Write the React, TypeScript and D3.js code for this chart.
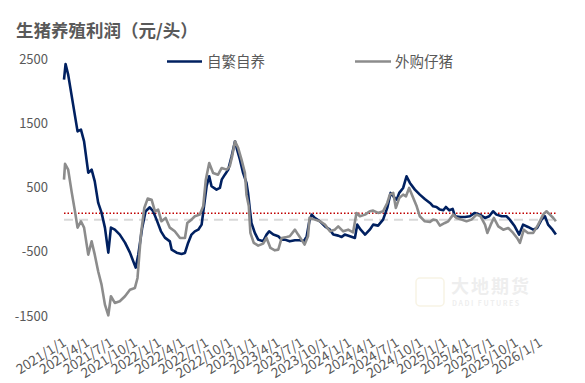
import React from "react";
import * as d3 from "d3";

const title = "生猪养殖利润（元/头）";
const seriesNames = ["自繁自养", "外购仔猪"];
const yTicks = [2500, 1500, 500, -500, -1500];
const breakEven = 100;

const selfDates = [
  "2021-01-01","2021-01-07","2021-01-17","2021-02-05","2021-02-22","2021-03-07","2021-03-19","2021-04-04","2021-04-17","2021-04-29",
  "2021-05-12","2021-05-25","2021-06-07","2021-06-20","2021-06-30","2021-07-15","2021-08-03","2021-08-23","2021-09-11","2021-10-03",
  "2021-10-13","2021-10-28","2021-11-10","2021-11-26","2021-12-09","2021-12-22","2022-01-08","2022-01-23","2022-02-11","2022-02-18",
  "2022-03-09","2022-03-28","2022-04-10","2022-04-22","2022-05-05","2022-05-18","2022-05-31","2022-06-13","2022-06-22","2022-07-02",
  "2022-07-12","2022-07-21","2022-08-09","2022-08-22","2022-08-29","2022-09-10","2022-09-23","2022-10-06","2022-10-19","2022-10-27",
  "2022-11-07","2022-11-19","2022-12-02","2022-12-08","2022-12-15","2022-12-21","2023-01-03","2023-01-16","2023-02-04","2023-02-17",
  "2023-02-27","2023-03-15","2023-04-03","2023-04-16","2023-04-28","2023-05-17","2023-06-06","2023-06-25","2023-07-10","2023-07-21",
  "2023-07-31","2023-08-09","2023-08-21","2023-09-10","2023-09-29","2023-10-18","2023-10-31","2023-11-19","2023-12-02","2023-12-14",
  "2024-01-03","2024-01-22","2024-01-31","2024-02-13","2024-03-01","2024-03-19","2024-04-01","2024-04-20","2024-05-09","2024-05-25",
  "2024-06-07","2024-06-17","2024-06-30","2024-07-10","2024-07-25","2024-08-07","2024-08-20","2024-09-08","2024-09-27","2024-10-16",
  "2024-11-05","2024-11-17","2024-11-30","2024-12-13","2024-12-26","2025-01-05","2025-01-18","2025-01-31","2025-02-09","2025-02-28",
  "2025-03-19","2025-04-07","2025-04-26","2025-05-15","2025-06-04","2025-06-20","2025-07-05","2025-07-18","2025-08-07","2025-08-26",
  "2025-09-07","2025-09-26","2025-10-13","2025-10-28","2025-11-16","2025-12-06","2025-12-21","2026-01-07","2026-01-20","2026-02-01",
  "2026-02-18","2026-03-03"
];
const selfValues = [
  2180, 2420, 2257, 1790, 1374, 1400, 1219, 731, 778, 596,
  265, 109, -125, -514, -125, -156, -233, -358, -514, -747,
  -545, -125, 130, 192, 130, 0, -182, -280, -338, -467,
  -514, -534, -519, -363, -233, -182, -156, -78, 207, 519,
  674, 519, 467, 493, 622, 700, 778, 985, 1219, 1089,
  934, 727, 571, 416, 156, -52, -207, -311, -338, -233,
  -182, -233, -259, -311, -311, -338, -322, -322, -338, -259,
  -30, 78, 26, -26, -104, -156, -233, -249, -270, -233,
  -259, -285, -78, -156, -233, -156, -78, -93, 0, 182,
  416, 363, 311, 416, 493, 674, 571, 467, 389, 322,
  260, 207, 197, 156, 145, 197, 145, 166, 52, 41,
  41, 52, 104, 78, 26, 52, 130, 78, 52, 52,
  0, -104, -233, -78, -114, -156, -130, 0, 52, -78,
  -156, -233
];

const boughtDates = [
  "2021-01-01","2021-01-05","2021-01-17","2021-01-30","2021-02-12","2021-02-22","2021-03-07","2021-03-19","2021-04-04","2021-04-17",
  "2021-04-29","2021-05-12","2021-05-25","2021-06-07","2021-06-20","2021-06-30","2021-07-15","2021-08-03","2021-08-23","2021-09-11",
  "2021-09-30","2021-10-10","2021-10-23","2021-11-05","2021-11-18","2021-12-03","2021-12-16","2021-12-28","2022-01-10","2022-01-26",
  "2022-02-11","2022-03-02","2022-03-22","2022-04-10","2022-04-19","2022-05-05","2022-05-18","2022-06-06","2022-06-19","2022-06-29",
  "2022-07-12","2022-07-27","2022-08-15","2022-08-29","2022-09-17","2022-09-29","2022-10-08","2022-10-19","2022-10-31","2022-11-13",
  "2022-11-26","2022-12-02","2022-12-11","2022-12-17","2022-12-30","2023-01-16","2023-02-04","2023-02-17","2023-03-04","2023-03-21",
  "2023-04-03","2023-04-16","2023-05-05","2023-05-17","2023-06-06","2023-06-18","2023-07-01","2023-07-13","2023-07-26","2023-08-01",
  "2023-08-21","2023-09-10","2023-09-29","2023-10-18","2023-11-06","2023-11-19","2023-12-08","2023-12-27","2024-01-15","2024-01-28",
  "2024-02-10","2024-03-01","2024-03-19","2024-04-01","2024-04-20","2024-05-09","2024-05-25","2024-06-04","2024-06-17","2024-06-27",
  "2024-07-10","2024-07-25","2024-08-05","2024-08-17","2024-08-30","2024-09-15","2024-09-27","2024-10-16","2024-11-05","2024-11-17",
  "2024-11-30","2024-12-13","2025-01-01","2025-01-14","2025-02-02","2025-02-15","2025-03-06","2025-03-25","2025-04-13","2025-05-03",
  "2025-05-18","2025-06-04","2025-06-13","2025-06-26","2025-07-08","2025-07-25","2025-08-13","2025-09-01","2025-09-20","2025-10-05",
  "2025-10-16","2025-10-31","2025-11-16","2025-12-06","2025-12-25","2026-01-13","2026-01-26","2026-02-08","2026-02-21","2026-03-03"
];
const boughtValues = [
  622, 867, 778, 440, 130, -125, -26, -125, -545, -338,
  -545, -804, -1012, -1323, -1489, -1193, -1297, -1271, -1193, -1090,
  -1063, -908, -233, 182, 327, 311, 130, 156, -26, 26,
  -125, -182, -285, -285, -52, 0, 52, 78, 207, 622,
  882, 727, 700, 804, 778, 830, 985, 1219, 1116, 934,
  727, 389, 207, -207, -363, -405, -374, -285, -441, -478,
  -467, -285, -270, -259, -156, -233, -311, -389, -259, 30,
  0, -26, -78, -182, -156, -104, -182, -156, -197, 104,
  52, 78, 130, 140, 104, 130, 259, 389, 416, 182,
  337, 389, 363, 493, 363, 207, 52, -26, -35, 0,
  -10, -93, -52, -26, 78, 26, 0, -26, 0, 78,
  52, -78, -207, -78, 26, -104, -156, -130, -207, -285,
  -363, -156, -207, -207, -78, 78, 130, 78, 26, -26
];

const W = 585;
const H = 383;
const NAVY = "#002060";
const GRAY = "#8c8c8c";
const TEXT = "#595959";
const FONT = "'Noto Sans CJK SC', 'Noto Sans', sans-serif";

export default function App() {
  const parse = d3.timeParse("%Y-%m-%d");
  const x = d3
    .scaleTime()
    .domain([parse("2021-01-01")!, parse("2026-01-01")!])
    .range([64, 540]);
  const y = d3.scaleLinear().domain([-1500, 2500]).range([316, 59]);

  const self = selfDates.map((d, i) => ({ d: parse(d)!, v: selfValues[i] }));
  const bought = boughtDates.map((d, i) => ({ d: parse(d)!, v: boughtValues[i] }));
  const line = d3
    .line<{ d: Date; v: number }>()
    .x((p) => x(p.d))
    .y((p) => y(p.v))
    .curve(d3.curveLinear);

  const xStart = x(self[0].d);
  const xEnd = x(self[self.length - 1].d);
  const xTicks = d3.timeMonth.every(3)!.range(parse("2021-01-01")!, parse("2026-01-02")!);
  const fmt = d3.timeFormat("%Y/%-m/%-d");

  return (
    <svg
      width={W}
      height={H}
      style={{ position: "absolute", left: 0, top: 0, background: "#fff" }}
      fontFamily={FONT}
    >
      <rect width={W} height={H} fill="#fff" />
      <text x={16} y={37} fontSize={17.5} fontWeight="bold" fill={TEXT}>
        {title}
      </text>

      {/* watermark */}
      <g opacity={0.13}>
        <rect x={416} y={278} width={28} height={28} rx={4} fill="none" stroke="#c9a93a" strokeWidth={1.5} />
        <text x={451} y={293} fontSize={18} fontWeight="bold" fill="#7f7f7f" letterSpacing={2}>
          大地期货
        </text>
        <text x={452} y={306} fontSize={7} fontWeight="bold" fill="#7f7f7f" letterSpacing={1.5}>
          DADI FUTURES
        </text>
      </g>

      {/* y labels */}
      {yTicks.map((t) => (
        <text key={t} x={48} y={y(t)} dy="0.35em" textAnchor="end" fontSize={13} fill={TEXT}>
          {t}
        </text>
      ))}

      {/* x labels */}
      {xTicks.map((t) => (
        <text
          key={+t}
          transform={`translate(${x(t) + 3},${345}) rotate(-32)`}
          textAnchor="end"
          fontSize={13.5}
          fill={TEXT}
        >
          {fmt(t)}
        </text>
      ))}

      {/* reference lines */}
      <line x1={xStart} x2={xEnd} y1={y(0)} y2={y(0)} stroke="#d9d9d9" strokeWidth={2} strokeDasharray="9,6" />
      <line
        x1={xStart}
        x2={xEnd}
        y1={y(breakEven)}
        y2={y(breakEven)}
        stroke="#c00000"
        strokeWidth={1.5}
        strokeDasharray="1.5,2"
      />

      <path d={line(self) ?? ""} fill="none" stroke={NAVY} strokeWidth={2.6} strokeLinejoin="round" />
      <path d={line(bought) ?? ""} fill="none" stroke={GRAY} strokeWidth={2.6} strokeLinejoin="round" />

      {/* legend */}
      <line x1={167} x2={202} y1={61.5} y2={61.5} stroke={NAVY} strokeWidth={2.5} />
      <text x={207} y={61.5} dy="0.36em" fontSize={14.5} fill={TEXT}>
        {seriesNames[0]}
      </text>
      <line x1={355} x2={391} y1={61.5} y2={61.5} stroke={GRAY} strokeWidth={2.5} />
      <text x={395} y={61.5} dy="0.36em" fontSize={14.5} fill={TEXT}>
        {seriesNames[1]}
      </text>
    </svg>
  );
}
